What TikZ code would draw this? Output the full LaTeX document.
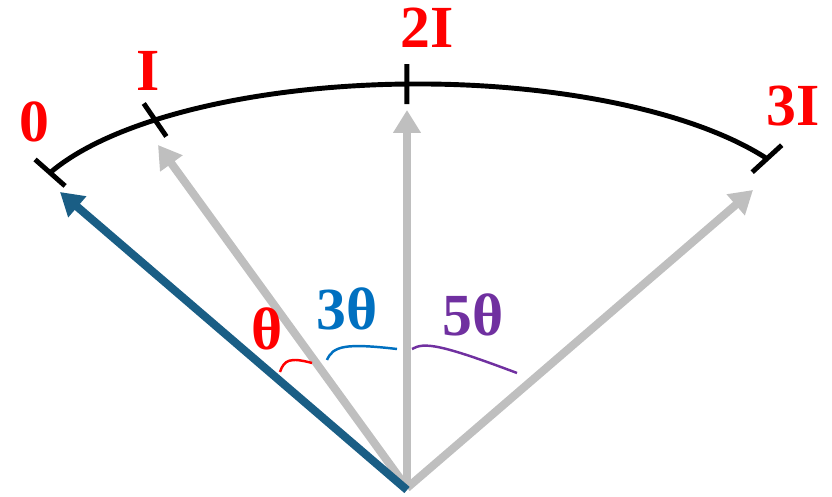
\documentclass[tikz,border=0pt]{standalone}
\usepackage{fontspec}
\setmainfont{Liberation Serif}
\usetikzlibrary{arrows.meta,calc}

\definecolor{rosso}{HTML}{FF0000}
\definecolor{blu}{HTML}{0070C0}
\definecolor{viola}{HTML}{7030A0}
\definecolor{bluscuro}{HTML}{1A5E85}
\definecolor{grigio}{HTML}{BFBFBF}

\begin{document}
\begin{tikzpicture}[x=0.02cm,y=0.02cm,
    etichetta/.style={font=\fontsize{34}{40}\selectfont\bfseries},
    freccia/.style={line width=4.6pt,-{Triangle[width=15pt,length=13pt]}},
    tacca/.style={line width=2.8pt},
    angolo/.style={line width=1.4pt}]

        % Riquadro del disegno (832 x 497)
        \useasboundingbox (0,0) rectangle (832,497);

        % Origine, centro dell'arco e punti sull'arco
        \coordinate (O) at (407,9);
        \coordinate (C) at (418,267);
        \coordinate (t0) at ($(C)+(156.9:400 and 146)$);
        \coordinate (t1) at ($(C)+(131.1:400 and 146)$);
        \coordinate (t2) at ($(C)+(91.6:400 and 146)$);
        \coordinate (t3) at ($(C)+(29.25:400 and 146)$);

        % Punte delle frecce
        \coordinate (p0) at (60,305);
        \coordinate (p1) at (158,352);
        \coordinate (p2) at (407,387);
        \coordinate (p3) at (753,307);

        % Arco nero
        \draw[tacca] (t0) arc[start angle=156.9, end angle=29.25, x radius=400, y radius=146];

        % Tacche lungo le direzioni delle frecce
        \foreach \t in {t0,t1,t2,t3}
            \draw[tacca] ($(\t)!0.4cm!(O)$) -- ($(\t)!-0.4cm!(O)$);

        % Frecce grigie e freccia blu
        \foreach \p in {p1,p2,p3}
            \draw[freccia, grigio] (O) -- (\p);
        \draw[freccia, bluscuro] ($(O)+(0,-2)$) -- (p0);

        % Archetti degli angoli
        \draw[angolo, rosso] (280,125) .. controls (284,137) and (290,140) .. (312,134);
        \draw[angolo, blu] (327,137) .. controls (333,151) and (345,154) .. (397,148);
        \draw[angolo, viola] (412,148) .. controls (424,155) and (440,153) .. (517,124);

        % Etichette sull'arco
        \node[etichetta, rosso] (l0) at (34,375) {0};
        \node[etichetta, rosso] (l1) at (148,426) {I};
        \node[etichetta, rosso] (l2) at (427,469) {2I};
        \node[etichetta, rosso] (l3) at (793,391) {3I};

        % Etichette degli angoli
        \node[etichetta, rosso] (a1) at (267,168) {θ};
        \node[etichetta, blu] (a3) at (347,188) {3θ};
        \node[etichetta, viola] (a5) at (473,182) {5θ};

    \end{tikzpicture}
\end{document}
